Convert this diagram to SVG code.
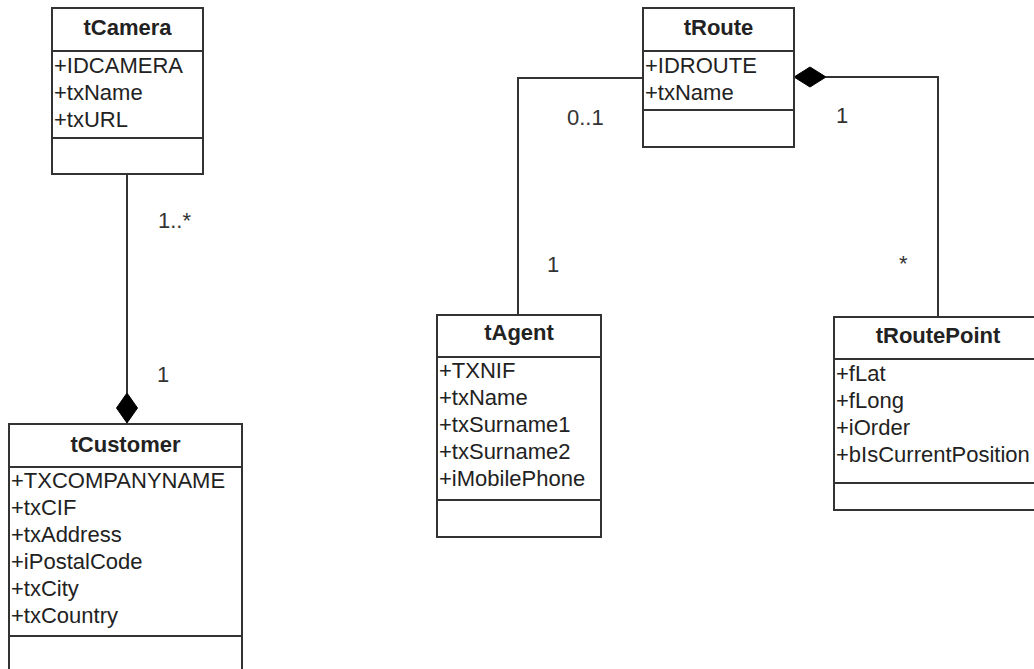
<svg xmlns="http://www.w3.org/2000/svg" width="1034" height="669" viewBox="0 0 1034 669">
<style>
.box{fill:#fff;stroke:#333;stroke-width:2}
.div{stroke:#333;stroke-width:2}
.t{font-family:"Liberation Sans",Arial,sans-serif;font-size:22px;fill:#222}
.h{font-family:"Liberation Sans",Arial,sans-serif;font-size:22px;font-weight:bold;fill:#222;text-anchor:middle}
.lab{font-family:"Liberation Sans",Arial,sans-serif;font-size:22px;fill:#333}
.ln{fill:none;stroke:#333;stroke-width:2}
.dia{fill:#000;stroke:#000;stroke-width:1}
</style>
<rect width="1034" height="669" fill="#fff"/>
<g id="connectors">
<line class="ln" x1="127" y1="174" x2="127" y2="393"/>
<polygon class="dia" points="127,393 137.5,408 127,423 116.5,408"/>
<polyline class="ln" points="643,78 518,78 518,315"/>
<polyline class="ln" points="826,77 938,77 938,317"/>
<polygon class="dia" points="794,77 810,67 826,77 810,87"/>
<text class="lab" x="158" y="228">1..*</text>
<text class="lab" x="157" y="382">1</text>
<text class="lab" x="567" y="125">0..1</text>
<text class="lab" x="547" y="272">1</text>
<text class="lab" x="836" y="123">1</text>
<text class="lab" x="899" y="271">*</text>
</g>
<g id="tCamera">
<rect class="box" x="52" y="8" width="151" height="166"/>
<line class="div" x1="52" y1="51" x2="203" y2="51"/>
<line class="div" x1="52" y1="138" x2="203" y2="138"/>
<text class="h" x="127.5" y="35">tCamera</text>
<text class="t" x="54" y="73">+IDCAMERA</text>
<text class="t" x="54" y="100">+txName</text>
<text class="t" x="54" y="127">+txURL</text>
</g>
<g id="tCustomer">
<rect class="box" x="9" y="424" width="233" height="260"/>
<line class="div" x1="9" y1="467" x2="242" y2="467"/>
<line class="div" x1="9" y1="636" x2="242" y2="636"/>
<text class="h" x="125.5" y="452">tCustomer</text>
<text class="t" x="11" y="488">+TXCOMPANYNAME</text>
<text class="t" x="11" y="515">+txCIF</text>
<text class="t" x="11" y="542">+txAddress</text>
<text class="t" x="11" y="569">+iPostalCode</text>
<text class="t" x="11" y="596">+txCity</text>
<text class="t" x="11" y="623">+txCountry</text>
</g>
<g id="tRoute">
<rect class="box" x="643" y="8" width="151" height="139"/>
<line class="div" x1="643" y1="51" x2="794" y2="51"/>
<line class="div" x1="643" y1="110" x2="794" y2="110"/>
<text class="h" x="718.5" y="35">tRoute</text>
<text class="t" x="645" y="73">+IDROUTE</text>
<text class="t" x="645" y="100">+txName</text>
</g>
<g id="tAgent">
<rect class="box" x="437" y="315" width="164" height="222"/>
<line class="div" x1="437" y1="357" x2="601" y2="357"/>
<line class="div" x1="437" y1="500" x2="601" y2="500"/>
<text class="h" x="519" y="340">tAgent</text>
<text class="t" x="439" y="378">+TXNIF</text>
<text class="t" x="439" y="405">+txName</text>
<text class="t" x="439" y="432">+txSurname1</text>
<text class="t" x="439" y="459">+txSurname2</text>
<text class="t" x="439" y="486">+iMobilePhone</text>
</g>
<g id="tRoutePoint">
<rect class="box" x="834" y="317" width="208" height="193"/>
<line class="div" x1="834" y1="359" x2="1042" y2="359"/>
<line class="div" x1="834" y1="483" x2="1042" y2="483"/>
<text class="h" x="938" y="343">tRoutePoint</text>
<text class="t" x="836" y="381">+fLat</text>
<text class="t" x="836" y="408">+fLong</text>
<text class="t" x="836" y="435">+iOrder</text>
<text class="t" x="836" y="462">+bIsCurrentPosition</text>
</g>
</svg>
